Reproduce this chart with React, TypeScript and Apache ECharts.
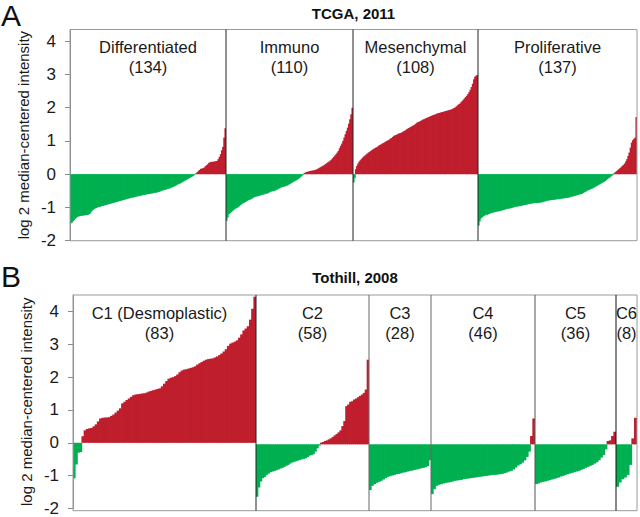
import React, { useEffect, useRef } from 'react';
import * as echarts from 'echarts';

// ---------- Panel A: TCGA, 2011 ----------
const tcgaTitle = 'TCGA, 2011';
const tcgaGroups = ['Differentiated', 'Immuno', 'Mesenchymal', 'Proliferative'];
const tcgaCounts = [134, 110, 108, 137];

const differentiated = [
  -1.48, -1.46, -1.42, -1.38, -1.34, -1.31, -1.28, -1.27, -1.26, -1.25,
  -1.25, -1.24, -1.24, -1.23, -1.23, -1.22, -1.2, -1.18, -1.12, -1.08,
  -1.05, -1.03, -1.02, -1.0, -0.99, -0.98, -0.97, -0.96, -0.95, -0.94,
  -0.93, -0.92, -0.91, -0.9, -0.89, -0.88, -0.87, -0.86, -0.85, -0.84,
  -0.83, -0.82, -0.81, -0.8, -0.79, -0.78, -0.77, -0.76, -0.75, -0.74,
  -0.73, -0.72, -0.71, -0.7, -0.7, -0.69, -0.68, -0.67, -0.66, -0.66,
  -0.65, -0.64, -0.63, -0.62, -0.62, -0.61, -0.6, -0.6, -0.59, -0.58,
  -0.58, -0.57, -0.56, -0.56, -0.55, -0.54, -0.53, -0.52, -0.5, -0.49,
  -0.48, -0.47, -0.46, -0.45, -0.44, -0.43, -0.41, -0.4, -0.38, -0.37,
  -0.35, -0.33, -0.31, -0.29, -0.28, -0.26, -0.24, -0.22, -0.2, -0.18,
  -0.16, -0.14, -0.12, -0.1, -0.08, -0.06, -0.03, -0.01,
  0.03, 0.06, 0.1, 0.13, 0.16, 0.17, 0.18, 0.2, 0.24, 0.27,
  0.3, 0.34, 0.36, 0.37, 0.37, 0.38, 0.38, 0.39, 0.4, 0.45,
  0.52, 0.6, 0.72, 0.82, 1.1, 1.38
];

const immuno = [
  -1.4, -1.3, -1.2, -1.17, -1.14, -1.11, -1.08, -1.05, -1.03, -1.01,
  -0.99, -0.96, -0.93, -0.9, -0.88, -0.86, -0.84, -0.82, -0.8, -0.78,
  -0.77, -0.75, -0.73, -0.71, -0.69, -0.68, -0.67, -0.66, -0.65, -0.64,
  -0.63, -0.62, -0.61, -0.6, -0.59, -0.58, -0.57, -0.55, -0.53, -0.52,
  -0.51, -0.5, -0.49, -0.48, -0.46, -0.44, -0.42, -0.4, -0.39, -0.38,
  -0.37, -0.36, -0.35, -0.33, -0.31, -0.29, -0.27, -0.25, -0.23, -0.21,
  -0.19, -0.17, -0.15, -0.12, -0.09, -0.06, -0.02,
  0.02, 0.04, 0.06,
  0.07, 0.08, 0.09, 0.1, 0.1, 0.11, 0.12, 0.13, 0.14, 0.16,
  0.18, 0.2, 0.22, 0.24, 0.26, 0.28, 0.31, 0.33, 0.36, 0.38,
  0.41, 0.44, 0.48, 0.52, 0.56, 0.6, 0.65, 0.7, 0.78, 0.85,
  0.92, 1.0, 1.1, 1.2, 1.3, 1.4, 1.52, 1.65, 1.8, 2.0
];

const mesenchymal = [
  -0.25, -0.12, 0.15, 0.25, 0.32, 0.38, 0.42, 0.46, 0.5, 0.53,
  0.56, 0.59, 0.62, 0.65, 0.67, 0.7, 0.72, 0.75, 0.77, 0.79,
  0.81, 0.83, 0.86, 0.88, 0.9, 0.92, 0.94, 0.96, 0.98, 1.0,
  1.02, 1.04, 1.07, 1.09, 1.12, 1.15, 1.17, 1.18, 1.2, 1.22,
  1.23, 1.24, 1.26, 1.28, 1.3, 1.32, 1.35, 1.37, 1.39, 1.41,
  1.43, 1.45, 1.47, 1.49, 1.52, 1.55, 1.57, 1.58, 1.6, 1.62,
  1.64, 1.65, 1.67, 1.69, 1.7, 1.72, 1.73, 1.75, 1.76, 1.78,
  1.79, 1.8, 1.82, 1.83, 1.84, 1.85, 1.86, 1.87, 1.88, 1.89,
  1.9, 1.91, 1.92, 1.93, 1.94, 1.95, 1.97, 1.99, 2.01, 2.04,
  2.07, 2.1, 2.12, 2.16, 2.2, 2.24, 2.28, 2.32, 2.36, 2.41,
  2.47, 2.54, 2.62, 2.72, 2.85, 2.93, 2.96, 2.98
];

const proliferative = [
  -1.55, -1.42, -1.33, -1.3, -1.27, -1.25, -1.23, -1.22, -1.21, -1.2,
  -1.18, -1.17, -1.16, -1.15, -1.14, -1.13, -1.12, -1.12, -1.11, -1.1,
  -1.09, -1.08, -1.07, -1.06, -1.05, -1.04, -1.03, -1.03, -1.02, -1.01,
  -1.0, -0.99, -0.98, -0.97, -0.97, -0.96, -0.96, -0.95, -0.94, -0.93,
  -0.93, -0.92, -0.91, -0.9, -0.89, -0.89, -0.88, -0.87, -0.87, -0.86,
  -0.87, -0.86, -0.86, -0.85, -0.85, -0.84, -0.83, -0.82, -0.81, -0.8,
  -0.79, -0.79, -0.78, -0.78, -0.77, -0.77, -0.76, -0.76, -0.75, -0.75,
  -0.74, -0.74, -0.73, -0.73, -0.72, -0.72, -0.71, -0.71, -0.7, -0.69,
  -0.68, -0.67, -0.66, -0.65, -0.64, -0.63, -0.62, -0.61, -0.6, -0.59,
  -0.57, -0.55, -0.53, -0.51, -0.49, -0.47, -0.46, -0.44, -0.43, -0.41,
  -0.39, -0.37, -0.35, -0.33, -0.31, -0.29, -0.27, -0.25, -0.23, -0.21,
  -0.18, -0.15, -0.12, -0.1, -0.07, -0.04, -0.02,
  0.03, 0.06, 0.09, 0.12, 0.15, 0.18, 0.21, 0.25, 0.28, 0.32,
  0.38, 0.45, 0.55, 0.65, 0.8, 0.95, 1.02, 1.06, 1.1, 1.72
];

// ---------- Panel B: Tothill, 2008 ----------
const tothillTitle = 'Tothill, 2008';
const tothillGroups = ['C1 (Desmoplastic)', 'C2', 'C3', 'C4', 'C5', 'C6'];
const tothillCounts = [83, 58, 28, 46, 36, 8];

const c1 = [
  -1.08, -0.66, -0.3, -0.28, 0.2, 0.38, 0.42, 0.44, 0.45, 0.5,
  0.56, 0.65, 0.74, 0.76, 0.77, 0.77, 0.78, 0.82, 0.86, 0.92,
  0.98, 1.05, 1.2, 1.25, 1.3, 1.35, 1.4, 1.45, 1.47, 1.48,
  1.49, 1.5, 1.51, 1.53, 1.56, 1.58, 1.6, 1.62, 1.64, 1.66,
  1.72, 1.8, 1.88, 1.95, 1.98, 2.0, 2.03, 2.08, 2.15, 2.2,
  2.23, 2.24, 2.26, 2.28, 2.3, 2.33, 2.38, 2.42, 2.46, 2.5,
  2.53, 2.55, 2.56, 2.57, 2.6, 2.63, 2.67, 2.72, 2.78, 2.85,
  2.95, 3.02, 3.05, 3.08, 3.12, 3.2, 3.3, 3.42, 3.48, 3.55,
  3.75, 4.08, 4.45
];

const c2 = [
  -1.58, -1.3, -1.12, -1.02, -0.98, -0.92, -0.88, -0.84, -0.82, -0.8,
  -0.78, -0.76, -0.73, -0.71, -0.68, -0.65, -0.62, -0.58, -0.55, -0.53,
  -0.51, -0.49, -0.47, -0.45, -0.44, -0.42, -0.38, -0.34, -0.32, -0.3,
  -0.22, -0.12, -0.04,
  0.05, 0.07, 0.1, 0.12, 0.15, 0.18, 0.22, 0.27, 0.31, 0.36,
  0.42, 0.55, 0.7, 1.15, 1.2, 1.28, 1.3, 1.35, 1.38, 1.42,
  1.46, 1.5, 1.55, 1.65, 2.55
];

const c3 = [
  -1.38, -1.25, -1.2, -1.16, -1.13, -1.1, -1.06, -1.02, -0.98, -0.96,
  -0.94, -0.92, -0.9, -0.89, -0.87, -0.85, -0.84, -0.82, -0.8, -0.79,
  -0.77, -0.76, -0.74, -0.72, -0.71, -0.69, -0.66, -0.48
];

const c4 = [
  -1.5, -1.35, -1.25, -1.22, -1.2, -1.18, -1.16, -1.15, -1.14, -1.12,
  -1.1, -1.09, -1.08, -1.07, -1.05, -1.04, -1.03, -1.02, -1.01, -1.0,
  -0.99, -0.98, -0.97, -0.96, -0.95, -0.94, -0.93, -0.92, -0.92, -0.91,
  -0.9, -0.89, -0.87, -0.85, -0.82, -0.8, -0.76, -0.7, -0.64, -0.6,
  -0.55, -0.48, -0.38, -0.22, 0.25, 0.78
];

const c5 = [
  -1.2, -1.18, -1.15, -1.13, -1.12, -1.1, -1.08, -1.06, -1.04, -1.02,
  -1.0, -0.97, -0.95, -0.92, -0.9, -0.88, -0.86, -0.84, -0.82, -0.8,
  -0.77, -0.74, -0.71, -0.68, -0.65, -0.62, -0.58, -0.54, -0.48, -0.4,
  -0.32, -0.15, 0.1, 0.12, 0.25, 0.38
];

const c6 = [-1.28, -1.15, -1.05, -1.0, -0.92, -0.62, 0.18, 0.8];

const yTicks = [-2, -1, 0, 1, 2, 3, 4];
const yAxisName = 'log 2 median-centered intensity';

// ---------- layout / style ----------
const FONT = 'Liberation Sans, Arial, Helvetica, sans-serif';
const RED = '#BF1E2D';
const GREEN = '#00B050';

const panels = [
  {
    letter: 'A',
    letterY: 15,
    title: tcgaTitle,
    titleY: 13,
    groups: tcgaGroups,
    counts: tcgaCounts,
    series: [differentiated, immuno, mesenchymal, proliferative],
    bounds: [70, 226, 353, 478, 637],
    labelShift: [0, 0, 0, 0],
    dividerColors: ['#222', '#222', '#222'],
    top: 29.5,
    bottom: 240.7,
    max: 4.35,
  },
  {
    letter: 'B',
    letterY: 276,
    title: tothillTitle,
    titleY: 277,
    groups: tothillGroups,
    counts: tothillCounts,
    series: [c1, c2, c3, c4, c5, c6],
    bounds: [73, 256, 369, 431, 535, 616, 637],
    labelShift: [-5, 0, 0, 0, 0, 0],
    dividerColors: ['#222', '#666', '#666', '#555', '#111'],
    top: 295,
    bottom: 510.7,
    max: 4.5,
  },
];

function buildOption() {
  const grid: any[] = [];
  const xAxis: any[] = [];
  const yAxis: any[] = [];
  const series: any[] = [];
  const graphic: any[] = [];

  panels.forEach((p) => {
    const height = p.bottom - p.top;
    p.series.forEach((vals, k) => {
      const gi = grid.length;
      const left = p.bounds[k];
      const width = p.bounds[k + 1] - p.bounds[k];
      grid.push({ left, top: p.top, width, height, containLabel: false });
      xAxis.push({
        type: 'category',
        gridIndex: gi,
        data: vals.map((_, i) => i + 1),
        show: false,
        boundaryGap: true,
      });
      const first = k === 0;
      yAxis.push({
        type: 'value',
        gridIndex: gi,
        min: -2,
        max: p.max,
        interval: 1,
        show: first,
        splitLine: { show: false },
        axisLine: { show: first, lineStyle: { color: '#8a8a8a', width: 1 } },
        axisTick: {
          show: first,
          customValues: yTicks,
          length: 5,
          lineStyle: { color: '#8a8a8a' },
        },
        axisLabel: {
          show: first,
          customValues: yTicks,
          fontFamily: FONT,
          fontSize: 17,
          color: '#1a1a1a',
          margin: 14,
        },
        name: first ? yAxisName : '',
        nameLocation: 'middle',
        nameGap: 39,
        nameTextStyle: { fontFamily: FONT, fontSize: 15, color: '#1a1a1a' },
      });
      const bw = width / vals.length + 0.8;
      series.push({
        type: 'bar',
        xAxisIndex: gi,
        yAxisIndex: gi,
        barWidth: bw,
        barGap: '-100%',
        data: vals.map((v) => ({
          value: v,
          itemStyle: { color: v >= 0 ? RED : GREEN },
        })),
      });
      // group label
      graphic.push({
        type: 'text',
        x: left + width / 2 + p.labelShift[k],
        y: p.top + 7.5,
        z: 110,
        style: {
          text: p.groups[k] + '\n(' + p.counts[k] + ')',
          align: 'center',
          verticalAlign: 'top',
          fontFamily: FONT,
          fontSize: 16.5,
          lineHeight: 20,
          fill: '#1a1a1a',
        },
      });
    });

    // frame
    const l = p.bounds[0];
    const r = p.bounds[p.bounds.length - 1];
    graphic.push({
      type: 'rect',
      z: 100,
      silent: true,
      shape: { x: l, y: p.top, width: r - l, height: height },
      style: { fill: 'none', stroke: '#9a9a9a', lineWidth: 1 },
    });
    // dividers
    for (let d = 1; d < p.bounds.length - 1; d++) {
      graphic.push({
        type: 'line',
        z: 101,
        silent: true,
        shape: { x1: p.bounds[d], y1: p.top, x2: p.bounds[d], y2: p.bottom },
        style: { stroke: p.dividerColors[d - 1], lineWidth: 1 },
      });
    }
    // title
    graphic.push({
      type: 'text',
      x: (l + r) / 2,
      y: p.titleY,
      z: 110,
      style: {
        text: p.title,
        align: 'center',
        verticalAlign: 'middle',
        fontFamily: FONT,
        fontSize: 15,
        fontWeight: 'bold',
        fill: '#111',
      },
    });
    // panel letter
    graphic.push({
      type: 'text',
      x: 1,
      y: p.letterY,
      z: 110,
      style: {
        text: p.letter,
        align: 'left',
        verticalAlign: 'middle',
        fontFamily: FONT,
        fontSize: 30,
        fill: '#111',
      },
    });
  });

  return {
    animation: false,
    backgroundColor: '#ffffff',
    grid,
    xAxis,
    yAxis,
    series,
    graphic,
  };
}

export default function App() {
  const ref = useRef<HTMLDivElement | null>(null);
  useEffect(() => {
    if (!ref.current) return;
    const chart = echarts.init(ref.current, undefined, { renderer: 'svg' });
    chart.setOption(buildOption() as any);
    return () => {
      chart.dispose();
    };
  }, []);
  return (
    <div
      ref={ref}
      style={{ position: 'absolute', left: 0, top: 0, width: 640, height: 517, background: '#fff' }}
    />
  );
}
